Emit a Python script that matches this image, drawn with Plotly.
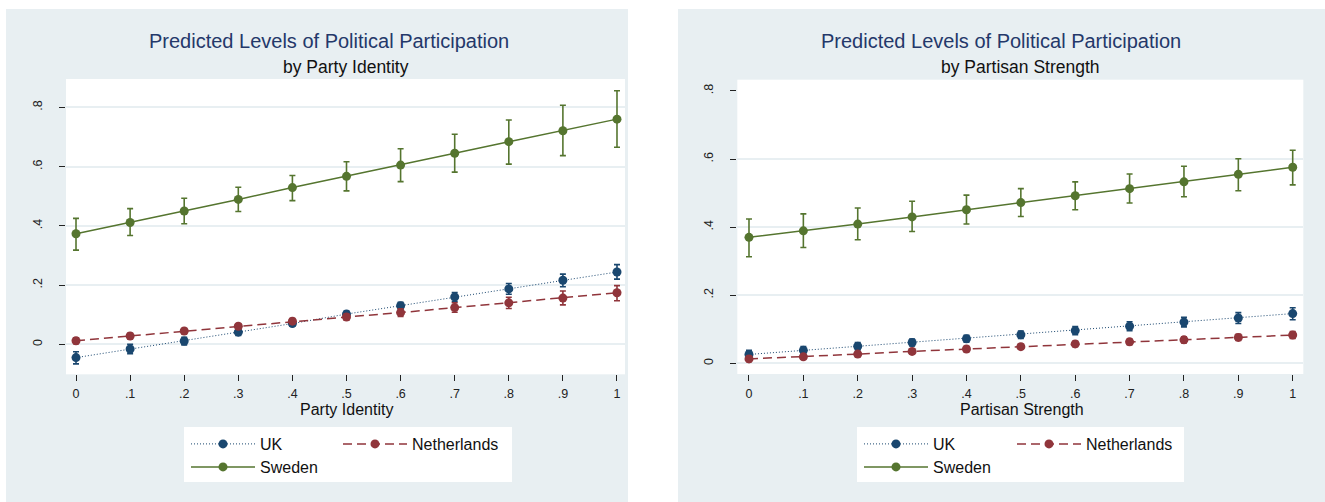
import plotly.graph_objects as go

W, H = 1325, 502

# ---------------- data ----------------
x_vals = [0, 0.1, 0.2, 0.3, 0.4, 0.5, 0.6, 0.7, 0.8, 0.9, 1.0]
x_ticktext = ["0", ".1", ".2", ".3", ".4", ".5", ".6", ".7", ".8", ".9", "1"]
y_tickvals = [0, 0.2, 0.4, 0.6, 0.8]
y_ticktext = ["0", ".2", ".4", ".6", ".8"]
grid_right = [0, 0.2, 0.4, 0.6]

# Panel 1: by Party Identity
pi_uk = [-0.045, -0.016, 0.011, 0.041, 0.070, 0.102, 0.130, 0.160, 0.187, 0.216, 0.244]
pi_uk_lo = [-0.066, -0.032, -0.002, 0.030, 0.061, 0.092, 0.118, 0.145, 0.169, 0.194, 0.220]
pi_uk_hi = [-0.025, 0.000, 0.024, 0.052, 0.079, 0.112, 0.142, 0.175, 0.205, 0.237, 0.269]

pi_nl = [0.012, 0.028, 0.045, 0.061, 0.078, 0.092, 0.107, 0.124, 0.140, 0.156, 0.174]
pi_nl_lo = [0.002, 0.019, 0.037, 0.053, 0.069, 0.082, 0.094, 0.108, 0.121, 0.133, 0.147]
pi_nl_hi = [0.022, 0.037, 0.053, 0.069, 0.087, 0.102, 0.120, 0.140, 0.159, 0.180, 0.198]

pi_se = [0.373, 0.411, 0.450, 0.489, 0.529, 0.567, 0.605, 0.645, 0.684, 0.721, 0.760]
pi_se_lo = [0.318, 0.367, 0.407, 0.448, 0.485, 0.518, 0.549, 0.581, 0.608, 0.637, 0.665]
pi_se_hi = [0.425, 0.458, 0.493, 0.530, 0.570, 0.616, 0.660, 0.709, 0.757, 0.807, 0.856]

# Panel 2: by Partisan Strength
ps_uk = [0.026, 0.038, 0.050, 0.061, 0.072, 0.084, 0.096, 0.109, 0.121, 0.133, 0.146]
ps_uk_lo = [0.014, 0.027, 0.039, 0.051, 0.062, 0.073, 0.084, 0.096, 0.107, 0.117, 0.128]
ps_uk_hi = [0.038, 0.049, 0.061, 0.071, 0.082, 0.095, 0.108, 0.122, 0.135, 0.149, 0.163]

ps_nl = [0.013, 0.019, 0.027, 0.035, 0.042, 0.049, 0.057, 0.063, 0.069, 0.076, 0.083]
ps_nl_lo = [0.005, 0.012, 0.020, 0.028, 0.035, 0.042, 0.049, 0.055, 0.060, 0.067, 0.073]
ps_nl_hi = [0.021, 0.026, 0.034, 0.042, 0.049, 0.056, 0.065, 0.071, 0.078, 0.085, 0.093]

ps_se = [0.370, 0.389, 0.409, 0.430, 0.451, 0.472, 0.492, 0.513, 0.533, 0.555, 0.576]
ps_se_lo = [0.313, 0.340, 0.363, 0.387, 0.409, 0.431, 0.451, 0.471, 0.489, 0.507, 0.524]
ps_se_hi = [0.424, 0.439, 0.456, 0.476, 0.494, 0.513, 0.533, 0.556, 0.579, 0.601, 0.626]

titles = ["Predicted Levels of Political Participation", "Predicted Levels of Political Participation"]
subtitles = ["by Party Identity", "by Partisan Strength"]
xtitles = ["Party Identity", "Partisan Strength"]
series_names = ["UK", "Netherlands", "Sweden"]

# ---------------- style ----------------
FONT = "Liberation Sans, Arial, sans-serif"
NAVY = "#1A476F"
MAROON = "#90353B"
GREEN = "#55752F"
PANEL = "#E8EFF2"
TITLE_C = "#24386A"
DOT = "1px,2px"
DASH = "9px,5px"

def px_x(p):
    return p / W

def px_y(p):
    return 1 - p / H

fig = go.Figure()

def add_series(xa, ya, y, lo, hi, name, color, dash, legend):
    fig.add_trace(go.Scatter(
        x=x_vals, y=y, name=name, mode="lines+markers",
        xaxis=xa, yaxis=ya, legend=legend,
        line=dict(color=color, width=1.5 if dash != DOT else 1.0, dash=dash),
        marker=dict(color=color, size=9),
        error_y=dict(type="data", symmetric=False,
                     array=[h - v for h, v in zip(hi, y)],
                     arrayminus=[v - l for v, l in zip(y, lo)],
                     color=color, thickness=1.6, width=3),
        hoverinfo="skip",
    ))

add_series("x", "y", pi_uk, pi_uk_lo, pi_uk_hi, series_names[0], NAVY, DOT, "legend")
add_series("x", "y", pi_nl, pi_nl_lo, pi_nl_hi, series_names[1], MAROON, DASH, "legend2")
add_series("x", "y", pi_se, pi_se_lo, pi_se_hi, series_names[2], GREEN, "solid", "legend3")
add_series("x2", "y2", ps_uk, ps_uk_lo, ps_uk_hi, series_names[0], NAVY, DOT, "legend4")
add_series("x2", "y2", ps_nl, ps_nl_lo, ps_nl_hi, series_names[1], MAROON, DASH, "legend5")
add_series("x2", "y2", ps_se, ps_se_lo, ps_se_hi, series_names[2], GREEN, "solid", "legend6")

tickfont = dict(family=FONT, size=12.5, color="#222222")

xaxis_common = dict(
    tickvals=x_vals, ticktext=x_ticktext, ticks="outside", ticklen=6, tickwidth=1,
    tickcolor="#222222", showgrid=False, zeroline=False, showline=False,
    tickfont=tickfont, ticklabelstandoff=2,
)
yaxis_common = dict(
    tickvals=y_tickvals, ticktext=y_ticktext, ticks="outside", ticklen=6, tickwidth=1,
    tickcolor="#222222", zeroline=False, showline=False, tickangle=-90,
    tickfont=tickfont, gridcolor=PANEL, gridwidth=1.6, ticklabelstandoff=12,
)

fig.update_layout(
    width=W, height=H,
    margin=dict(l=0, r=0, t=0, b=0, autoexpand=False),
    paper_bgcolor=PANEL, plot_bgcolor="white",
    font=dict(family=FONT, color="#111111"),
    xaxis=dict(domain=[px_x(66), px_x(625)], range=[-0.0185, 1.0148], anchor="y", **xaxis_common),
    yaxis=dict(domain=[px_y(374.3), px_y(79)], range=[-0.1013, 0.8955], anchor="x",
               showgrid=True, **yaxis_common),
    xaxis2=dict(domain=[px_x(737.3), px_x(1303.3)], range=[-0.0215, 1.0195], anchor="y2", **xaxis_common),
    yaxis2=dict(domain=[px_y(374), px_y(79.7)], range=[-0.0314, 0.833], anchor="x2",
                showgrid=False, **yaxis_common),
    yaxis3=dict(overlaying="y2", anchor="x2", range=[-0.0314, 0.833], tickvals=grid_right,
                showticklabels=False, ticks="", showgrid=True, gridcolor=PANEL, gridwidth=1.6,
                zeroline=False, showline=False),
    showlegend=True,
)

# invisible trace on the overlay axis so its grid is drawn
fig.add_trace(go.Scatter(x=[x_vals[0]], y=[grid_right[0]], xaxis="x2", yaxis="y3",
                         mode="markers", marker=dict(opacity=0), showlegend=False,
                         hoverinfo="skip"))

# white strips separating the two panels, and legend boxes
shapes = [
    dict(type="rect", xref="paper", yref="paper", x0=0, x1=1, y0=px_y(9), y1=1,
         fillcolor="white", line=dict(width=0), layer="below"),
    dict(type="rect", xref="paper", yref="paper", x0=0, x1=px_x(6), y0=0, y1=1,
         fillcolor="white", line=dict(width=0), layer="below"),
    dict(type="rect", xref="paper", yref="paper", x0=px_x(628), x1=px_x(678), y0=0, y1=1,
         fillcolor="white", line=dict(width=0), layer="below"),
    dict(type="rect", xref="paper", yref="paper", x0=px_x(184), x1=px_x(512), y0=px_y(482), y1=px_y(427),
         fillcolor="white", line=dict(width=0), layer="below"),
    dict(type="rect", xref="paper", yref="paper", x0=px_x(857), x1=px_x(1184), y0=px_y(482), y1=px_y(427),
         fillcolor="white", line=dict(width=0), layer="below"),
]
fig.update_layout(shapes=shapes)

# legends
leg_font = dict(family=FONT, size=16, color="#111111")
def leg(xp, yp):
    return dict(x=px_x(xp), y=px_y(yp), xanchor="left", yanchor="middle", orientation="v",
                bgcolor="rgba(0,0,0,0)", borderwidth=0, font=leg_font, itemwidth=64,
                itemclick=False, itemdoubleclick=False)

fig.update_layout(
    legend=leg(186, 444), legend2=leg(338, 444), legend3=leg(186, 467),
    legend4=leg(859, 444), legend5=leg(1012, 444), legend6=leg(859, 467),
)

# titles / subtitles / axis titles
ann = []
title_x = [328.6, 1001]
sub_x = [345.5, 1020]
xt_x = [346.5, 1021.5]
for i in range(2):
    ann.append(dict(text=titles[i], x=px_x(title_x[i]), y=px_y(41), xref="paper", yref="paper",
                    xanchor="center", yanchor="middle", showarrow=False,
                    font=dict(family=FONT, size=20, color=TITLE_C)))
    ann.append(dict(text=subtitles[i], x=px_x(sub_x[i]), y=px_y(67), xref="paper", yref="paper",
                    xanchor="center", yanchor="middle", showarrow=False,
                    font=dict(family=FONT, size=17.5, color="#111111")))
    ann.append(dict(text=xtitles[i], x=px_x(xt_x[i]), y=px_y(409), xref="paper", yref="paper",
                    xanchor="center", yanchor="middle", showarrow=False,
                    font=dict(family=FONT, size=16, color="#111111")))
fig.update_layout(annotations=ann)

fig.write_html("out.html", config={"displayModeBar": False},
               post_script="document.body.style.margin='0';")
